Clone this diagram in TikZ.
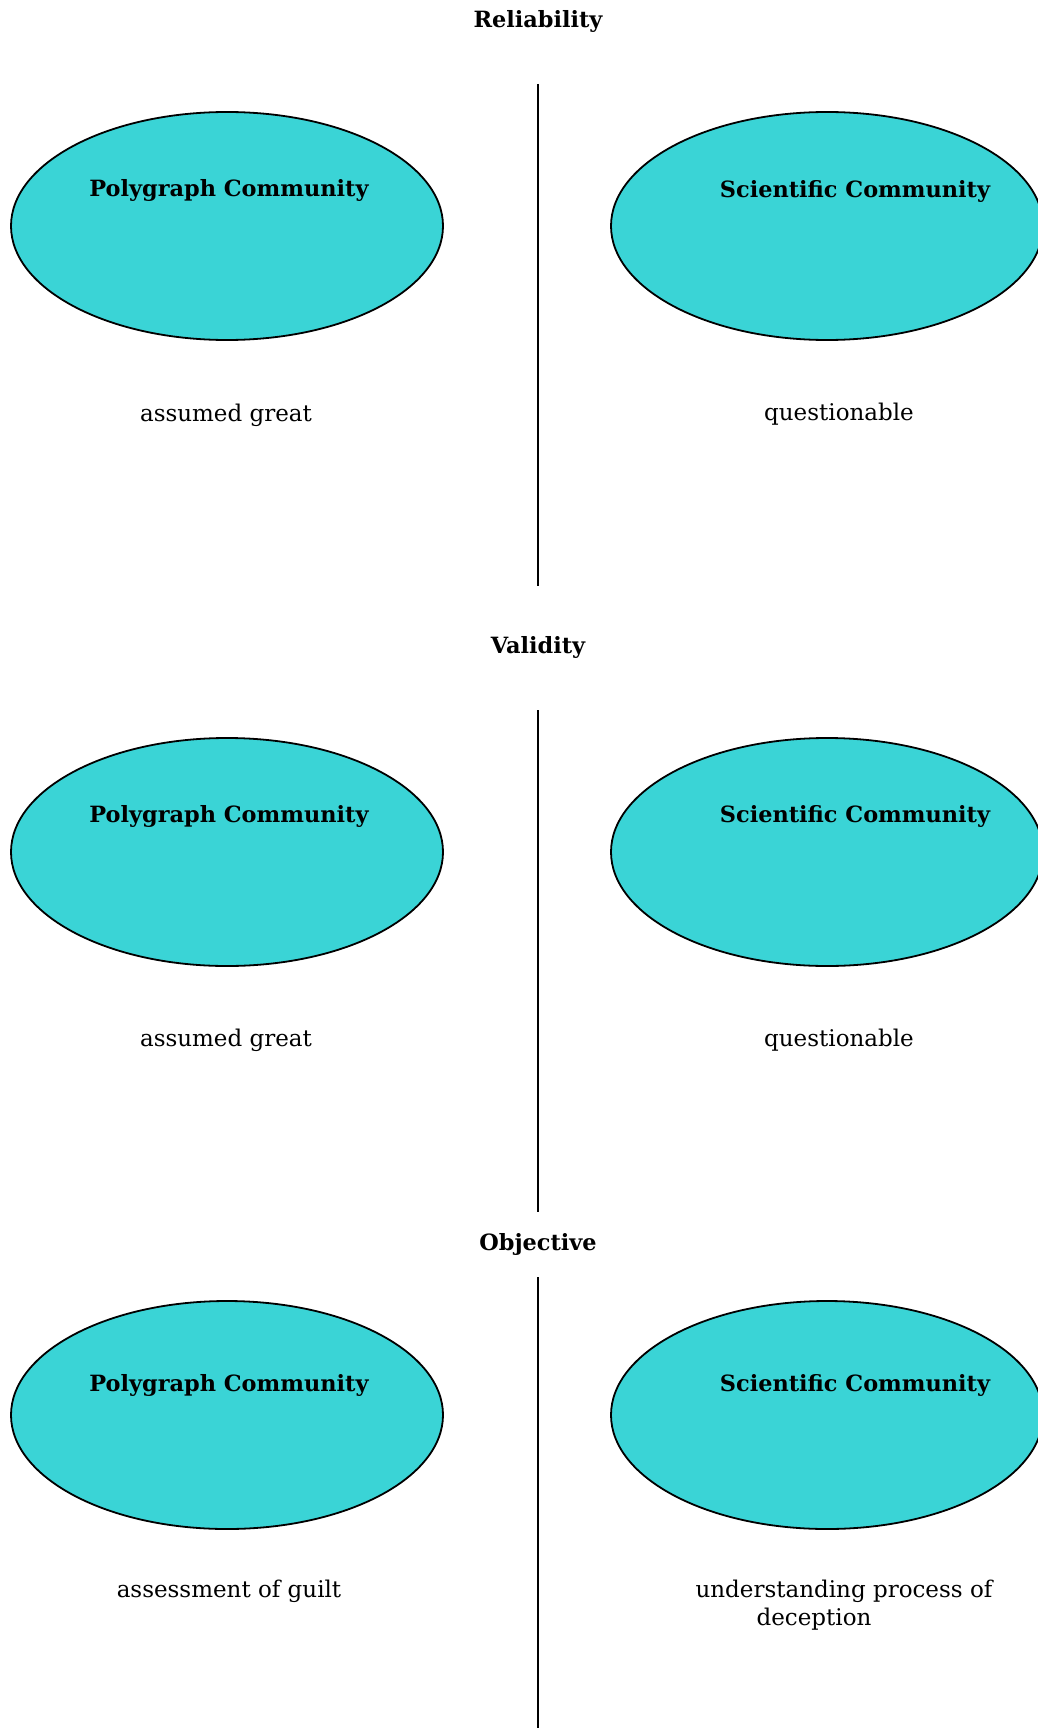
\documentclass[tikz,border=0pt]{standalone}
\usepackage{fontspec}
\setmainfont{DejaVu Serif}
\definecolor{cyanfill}{RGB}{58,212,214}
\begin{document}
\begin{tikzpicture}[x=1pt,y=-1pt,
  comm/.style={fill=cyanfill,draw=black,line width=1.8pt},
  title/.style={font=\fontsize{22.4}{26}\selectfont\bfseries},
  lbl/.style={font=\fontsize{23}{28}\selectfont,align=center},
  divider/.style={line width=1.6pt}]
\useasboundingbox (0,0) rectangle (1037,1728);
% Section 1
\node[title] (t1) at (538,21) {Reliability};
\coordinate (l1a) at (538,84);
\coordinate (l1b) at (538,586);
\draw[divider] (l1a) -- (l1b);
\filldraw[comm] (227,226) ellipse [x radius=216, y radius=114];
\filldraw[comm] (827,226) ellipse [x radius=216, y radius=114];
\node[title] (p1) at (229,190) {Polygraph Community};
\node[title] (s1) at (855,191) {Scientific Community};
\node[lbl] (a1) at (226,415) {assumed great};
\node[lbl] (q1) at (839,414) {questionable};
% Section 2
\node[title] (t2) at (538,647) {Validity};
\coordinate (l2a) at (538,710);
\coordinate (l2b) at (538,1212);
\draw[divider] (l2a) -- (l2b);
\filldraw[comm] (227,852) ellipse [x radius=216, y radius=114];
\filldraw[comm] (827,852) ellipse [x radius=216, y radius=114];
\node[title] (p2) at (229,816) {Polygraph Community};
\node[title] (s2) at (855,816) {Scientific Community};
\node[lbl] (a2) at (226,1040) {assumed great};
\node[lbl] (q2) at (839,1040) {questionable};
% Section 3
\node[title] (t3) at (538,1244) {Objective};
\coordinate (l3a) at (538,1277);
\coordinate (l3b) at (538,1728);
\draw[divider] (l3a) -- (l3b);
\filldraw[comm] (227,1415) ellipse [x radius=216, y radius=114];
\filldraw[comm] (827,1415) ellipse [x radius=216, y radius=114];
\node[title] (p3) at (229,1385) {Polygraph Community};
\node[title] (s3) at (855,1385) {Scientific Community};
\node[lbl] (a3) at (229,1591) {assessment of guilt};
\node[lbl,anchor=north] (u3) at (844,1576) {understanding process of\\\hspace*{-60pt}deception};
\end{tikzpicture}
\end{document}
